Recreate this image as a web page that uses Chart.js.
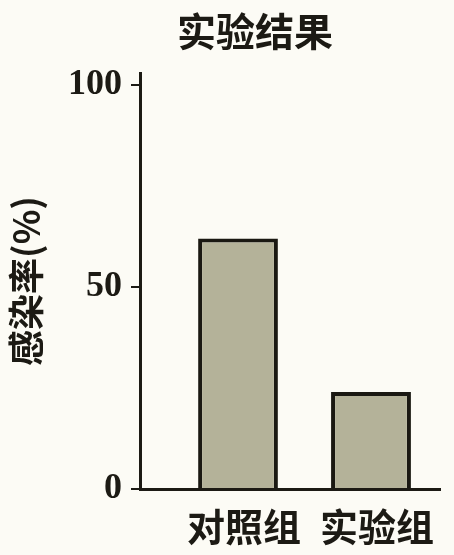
<!DOCTYPE html>
<html>
<head>
<meta charset="utf-8">
<script src="https://cdn.jsdelivr.net/npm/chart.js@4"></script>
<style>
  html, body { margin: 0; padding: 0; background: #fcfbf5; }
  #wrap { width: 454px; height: 555px; position: relative; }
</style>
</head>
<body>
<div id="wrap"><canvas id="c" width="454" height="555"></canvas></div>
<script>
// ---- data ----
const titleText = '实验结果';
const yAxisTitle = '感染率(%)';
const categories = ['对照组', '实验组'];
const categoryPositions = [1, 2];
const infectionRate = [62, 24];
const yTicks = [0, 50, 100];

const ink = '#1c1a14';
const cjk = '"Noto Sans CJK SC", "Noto Sans CJK JP", sans-serif';

const titlePlugin = {
  id: 'offsetTitle',
  afterDraw(chart) {
    const ctx = chart.ctx;
    ctx.save();
    ctx.fillStyle = ink;
    ctx.font = 'bold 39px ' + cjk;
    ctx.textAlign = 'center';
    ctx.textBaseline = 'middle';
    ctx.fillText(titleText, 255, 31);
    ctx.restore();
  }
};

new Chart(document.getElementById('c'), {
  type: 'bar',
  data: {
    datasets: [{
      data: categoryPositions.map((x, i) => ({ x: x, y: infectionRate[i] })),
      backgroundColor: '#b4b299',
      borderColor: '#1a1812',
      borderWidth: 4,
      barPercentage: 0.6,
      categoryPercentage: 1
    }]
  },
  plugins: [titlePlugin],
  options: {
    responsive: false,
    animation: false,
    layout: { padding: { top: 73, right: 14, bottom: 0, left: 0 } },
    plugins: { legend: { display: false }, tooltip: { enabled: false }, title: { display: false } },
    scales: {
      x: {
        type: 'linear',
        offset: false,
        min: 0.263,
        max: 2.519,
        afterBuildTicks(scale) { scale.ticks = categoryPositions.map(v => ({ value: v })); },
        afterFit(scale) { scale.height = 66; },
        grid: { display: false, drawTicks: false, tickLength: 0, offset: false },
        border: { display: true, color: ink, width: 3 },
        ticks: {
          autoSkip: false,
          maxRotation: 0,
          padding: 15,
          labelOffset: 6,
          color: ink,
          font: { family: cjk, size: 38, weight: 'bold' },
          callback: (v) => {
            const i = categoryPositions.indexOf(v);
            return i >= 0 ? categories[i] : '';
          }
        }
      },
      y: {
        min: 0,
        max: 103,
        afterBuildTicks(scale) { scale.ticks = yTicks.map(v => ({ value: v })); },
        afterFit(scale) { scale.width = 140; },
        grid: { display: true, drawOnChartArea: false, drawTicks: true, tickLength: 9, color: ink, lineWidth: 2 },
        border: { display: true, color: ink, width: 3 },
        ticks: {
          padding: 9,
          color: ink,
          font: { family: '"Liberation Serif", serif', size: 36, weight: 'bold' }
        },
        title: {
          display: true,
          text: yAxisTitle,
          color: ink,
          padding: { top: 5, bottom: 0 },
          font: { family: cjk, size: 36, weight: 'bold' }
        }
      }
    }
  }
});
</script>
</body>
</html>
